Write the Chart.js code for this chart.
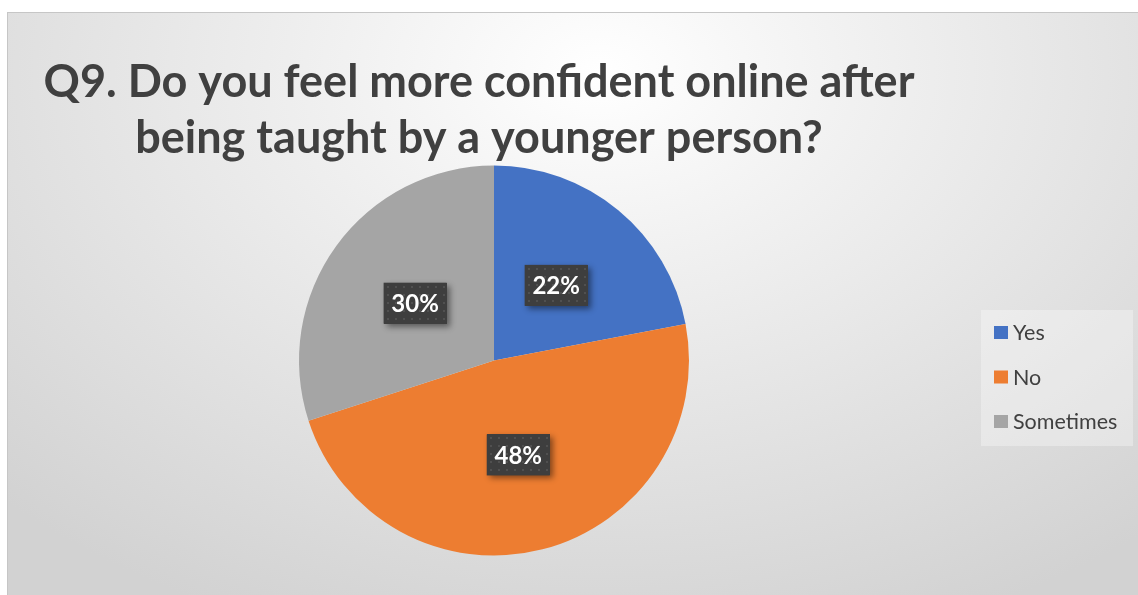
<!DOCTYPE html>
<html>
<head>
<meta charset="utf-8">
<script src="https://cdn.jsdelivr.net/npm/chart.js@4.4.1/dist/chart.umd.min.js"></script>
<style>
  html, body { margin: 0; padding: 0; background: #ffffff; width: 1138px; height: 595px; overflow: hidden; }
  #card {
    position: absolute; left: 7px; top: 12px; width: 1140px; height: 600px;
    border: 1px solid #c6c6c6; box-sizing: border-box;
    background: radial-gradient(ellipse 75% 100% at 52% 10%, #ffffff 0%, #f1f1f1 30%, #d2d2d2 100%);
  }
  #c { position: absolute; left: 0; top: 0; }
</style>
</head>
<body>
<div id="card"></div>
<canvas id="c" width="1138" height="595" style="width:1138px;height:595px"></canvas>
<script>
// Survey answers and their shares (percent)
const categories = ['Yes', 'No', 'Sometimes'];
const shares = [22, 48, 30];
const sliceColors = ['#4472C4', '#ED7D31', '#A5A5A5'];
const titleLines = [
  'Q9. Do you feel more confident online after',
  'being taught by a younger person?'
];

const FONT = 'Lato, "Open Sans", sans-serif';

// Dotted dark fill used behind the percentage labels
function makeDotPattern(ctx) {
  const tile = document.createElement('canvas');
  tile.width = 8; tile.height = 8;
  const t = tile.getContext('2d');
  t.fillStyle = '#3e3e3e';
  t.fillRect(0, 0, 8, 8);
  t.fillStyle = '#505050';
  t.fillRect(3, 3, 2, 2);
  return ctx.createPattern(tile, 'repeat');
}

// Title and legend drawn on the card without taking layout space
const cardText = {
  id: 'cardText',
  afterDraw(chart) {
    const ctx = chart.ctx;
    ctx.save();
    ctx.fillStyle = '#404040';
    ctx.font = 'bold 45px ' + FONT;
    ctx.textAlign = 'center';
    ctx.textBaseline = 'alphabetic';
    ctx.fillText(titleLines[0], 479, 97);
    ctx.fillText(titleLines[1], 479, 153);

    // legend panel
    ctx.fillStyle = 'rgba(255,255,255,0.32)';
    ctx.fillRect(981, 310, 152, 136);
    const ds = chart.data.datasets[0];
    ctx.font = '21.5px ' + FONT;
    ctx.textAlign = 'left';
    ctx.textBaseline = 'middle';
    const rows = [332.5, 377, 421.5];
    chart.data.labels.forEach((lab, i) => {
      ctx.fillStyle = ds.backgroundColor[i];
      ctx.fillRect(994, rows[i] - 6.5, 14, 13);
      ctx.fillStyle = '#404040';
      ctx.fillText(lab, 1013, rows[i] + 1);
    });
    ctx.restore();
  }
};

// Percentage labels in dark boxes at half the radius of each slice
const sliceLabels = {
  id: 'sliceLabels',
  afterDatasetsDraw(chart) {
    const ctx = chart.ctx;
    const meta = chart.getDatasetMeta(0);
    const values = chart.data.datasets[0].data;
    const pattern = makeDotPattern(ctx);
    meta.data.forEach((arc, i) => {
      const p = arc.getProps(['x', 'y', 'startAngle', 'endAngle', 'outerRadius'], true);
      const mid = (p.startAngle + p.endAngle) / 2;
      const r = p.outerRadius * 0.5;
      const cx = p.x + Math.cos(mid) * r;
      const cy = p.y + Math.sin(mid) * r;
      const w = 63, h = 41;
      ctx.save();
      ctx.shadowColor = 'rgba(0,0,0,0.45)';
      ctx.shadowBlur = 6;
      ctx.shadowOffsetX = 3;
      ctx.shadowOffsetY = 3;
      ctx.fillStyle = '#3e3e3e';
      ctx.fillRect(cx - w / 2, cy - h / 2, w, h);
      ctx.restore();
      ctx.save();
      ctx.translate(Math.round(cx - w / 2), Math.round(cy - h / 2));
      ctx.fillStyle = pattern;
      ctx.fillRect(0, 0, w, h);
      ctx.restore();
      ctx.save();
      ctx.fillStyle = '#ffffff';
      ctx.font = 'bold 24px ' + FONT;
      ctx.textAlign = 'center';
      ctx.textBaseline = 'middle';
      ctx.fillText(values[i] + '%', cx, cy + 1);
      ctx.restore();
    });
  }
};

new Chart(document.getElementById('c'), {
  type: 'pie',
  data: {
    labels: categories,
    datasets: [{
      data: shares,
      backgroundColor: sliceColors,
      borderWidth: 0,
      radius: 195
    }]
  },
  options: {
    responsive: false,
    devicePixelRatio: 1,
    animation: false,
    layout: { padding: { left: 299, right: 449, top: 165, bottom: 39 } },
    plugins: {
      legend: { display: false },
      title: { display: false },
      tooltip: { enabled: false }
    }
  },
  plugins: [sliceLabels, cardText]
});
</script>
</body>
</html>
